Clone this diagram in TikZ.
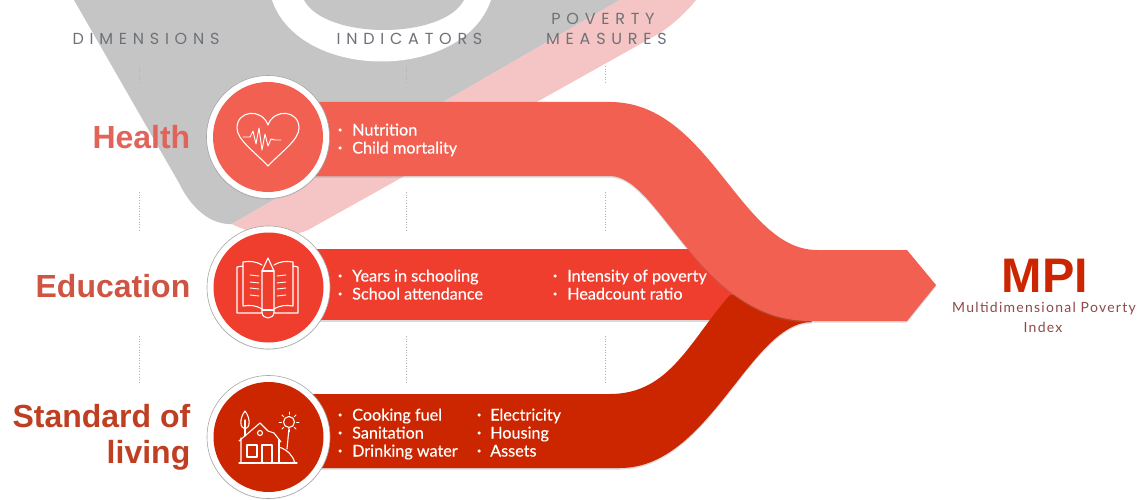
\documentclass[tikz,border=0pt]{standalone}
\usepackage{fontspec}
\setmainfont{Liberation Sans}
\newfontfamily\spacedfont[LetterSpace=36]{Poppins}
\newfontfamily\itemfont[FakeBold=0.3]{Lato}
\newfontfamily\subfont[LetterSpace=9]{Lato}
\usetikzlibrary{shadows}
\definecolor{hcol}{HTML}{F26052}
\definecolor{ecol}{HTML}{EF3E2E}
\definecolor{scol}{HTML}{CC2600}
\definecolor{pinkband}{HTML}{F5C4C4}
\definecolor{grayband}{HTML}{C5C5C5}
\definecolor{headcol}{HTML}{6E7278}
\definecolor{hlabel}{HTML}{E2635A}
\definecolor{elabel}{HTML}{CE5444}
\definecolor{slabel}{HTML}{BE3F22}
\definecolor{sublabel}{HTML}{8C4A48}
\tikzset{
  x=1pt,y=-1pt,
  header/.style={text=headcol,font=\spacedfont\fontsize{16}{18}\selectfont,inner sep=0pt},
  dimlabel/.style={anchor=east,inner sep=0pt,font=\fontsize{32}{38}\selectfont\bfseries},
  itemtext/.style={anchor=base west,inner sep=0pt,text=white,font=\itemfont\fontsize{16.2}{18}\selectfont},
  itemdot/.style={circle,fill=white,inner sep=0pt,minimum size=3.5pt},
  ringnode/.style={circle,draw=gray!70,line width=.6pt,fill=white,minimum size=123pt,inner sep=0pt,drop shadow={opacity=.15,shadow xshift=0pt,shadow yshift=-1pt}},
  discnode/.style={circle,minimum size=110pt,inner sep=0pt},
  icon/.style={draw=white,line width=1.1pt,line join=round,line cap=round},
  guide/.style={draw=gray!60,line width=.7pt,dotted},
  band/.style={drop shadow={opacity=.3,shadow xshift=0pt,shadow yshift=-1.5pt}},
  sublabeltext/.style={inner sep=0pt,text=sublabel,font=\subfont\fontsize{14}{16}\selectfont},
}
\newcommand{\bitem}[5]{\node[itemdot] (#1d) at (#2,#4) {}; \node[itemtext] (#1) at (#3,#4+5.5) {#5};}
\begin{document}
\begin{tikzpicture}
\useasboundingbox (0,0) rectangle (1137,500);
\clip (0,0) rectangle (1137,500);
% background motif
\fill[grayband] (74,0) -- (179,183) .. controls (192,210) and (212,225) .. (232,224) -- (620,0) -- cycle;
\fill[pinkband] (232,224) .. controls (250,234) and (285,240) .. (308,230) -- (660,33) .. controls (675,23) and (688,10) .. (696,0) -- (620,0) -- cycle;
\fill[white] (272,0) .. controls (300,82) and (463,82) .. (491,0) -- cycle;
\fill[grayband] (304,0) .. controls (325,40) and (443,40) .. (464,0) -- cycle;
% headers
\node[header] (hdim) at (146,39) {DIMENSIONS};
\node[header] (hind) at (409.5,39) {INDICATORS};
\node[header] (hpov) at (603,19) {POVERTY};
\node[header] (hmea) at (606.5,39) {MEASURES};
% guides
\foreach \gx in {139,406,605}{
  \draw[guide] (\gx,66) -- (\gx,84);
  \draw[guide] (\gx,192) -- (\gx,232);
  \draw[guide] (\gx,336) -- (\gx,382);
}
% bands
\fill[ecol,band] (300,249) -- (760,249) -- (760,320) -- (300,320) -- cycle;
\fill[scol,band] (300,394) -- (610,394) .. controls (670,394) and (690,340) .. (730,295) -- (790,290) -- (812,322)
  .. controls (750,322) and (710,468) .. (620,468) -- (300,468) -- cycle;
\fill[hcol,band] (300,102) -- (610,102) .. controls (710,102) and (740,250) .. (817,250) -- (907,250) -- (936,285) -- (907,321) -- (810,321)
  .. controls (700,321) and (660,176) .. (610,176) -- (300,176) -- cycle;
% circles
\node[ringnode] (rh) at (268,137) {};
\node[discnode,fill=hcol] (dh) at (268,137) {};
\node[ringnode] (re) at (268.5,287.5) {};
\node[discnode,fill=ecol] (de) at (268.5,287.5) {};
\node[ringnode] (rs) at (268.5,437) {};
\node[discnode,fill=scol] (ds) at (268.5,437) {};
% heart icon
\draw[icon] (268,166) .. controls (255,152) and (237,140) .. (237,128) .. controls (237,110) and (262,108) .. (268,125) .. controls (274,108) and (299,110) .. (299,128) .. controls (299,140) and (281,152) .. (268,166) -- cycle;
\draw[icon,line width=.9pt] (243,137) -- (250,137) -- (253,131) -- (256,144) -- (259,128) -- (262,150) -- (265,134) -- (268,146) -- (271,139) -- (275,140) -- (281,140);
% book icon
\draw[icon] (262,265) .. controls (255,261) and (250,261) .. (243,262) -- (243,306) .. controls (250,305) and (255,305) .. (262,309);
\draw[icon] (243,266) -- (237,267) -- (237,313) -- (262,313);
\draw[icon] (274,265) .. controls (281,261) and (286,261) .. (293,262) -- (293,306) .. controls (286,305) and (281,305) .. (274,309);
\draw[icon] (293,266) -- (298,267) -- (298,313) -- (274,313);
\draw[icon] (262,271) -- (268,258) -- (274,271) -- (274,312) .. controls (274,320) and (262,320) .. (262,312) -- cycle;
\draw[icon] (262,271) -- (274,271) (262,310) -- (274,310);
\foreach \ly in {275,282,288,295}{
  \draw[icon,line width=.9pt] (250,\ly) -- (259,\ly+1);
  \draw[icon,line width=.9pt] (286,\ly) -- (277,\ly+1);
}
% house icon
\draw[icon] (239,463) -- (297,463);
\draw[icon] (241,463) -- (241,438) (239,441) -- (260,423) -- (268,431) -- (274,433) -- (281,442);
\draw[icon] (279,440) -- (279,463);
\draw[icon] (247,445) rectangle (257,457);
\draw[icon] (262,463) -- (262,445) -- (272,445) -- (272,463);
\draw[icon] (260,433) circle (2.5);
\draw[icon] (279,447) .. controls (288,450) and (293,456) .. (295,463);
\draw[icon] (245,411) .. controls (239,419) and (240,428) .. (245,429) .. controls (250,428) and (251,419) .. (245,411) -- cycle;
\draw[icon] (245,420) -- (245,436);
\draw[icon] (289,422) circle (5.5);
\foreach \a in {0,45,...,315}{\draw[icon,line width=.9pt] (289,422) ++(\a:7.5) -- ++(\a:2.5);}
\draw[icon] (289,428) -- (287,449);
% labels
\node[dimlabel,text=hlabel] (lh) at (190.5,137) {Health};
\node[dimlabel,text=elabel] (le) at (190.5,286) {Education};
\node[dimlabel,text=slabel] (ls1) at (190.5,416) {Standard of};
\node[dimlabel,text=slabel] (ls2) at (190.5,455) {living};
% items
\bitem{a1}{340}{352}{130}{Nutrition}
\bitem{a2}{340}{352}{148}{Child mortality}
\bitem{b1}{340}{352}{276}{Years in schooling}
\bitem{b2}{340}{352}{294}{School attendance}
\bitem{b3}{555}{567}{276}{Intensity of poverty}
\bitem{b4}{555}{567}{294}{Headcount ratio}
\bitem{c1}{340}{352}{415}{Cooking fuel}
\bitem{c2}{340}{352}{433}{Sanitation}
\bitem{c3}{340}{352}{451}{Drinking water}
\bitem{c4}{479}{490}{415}{Electricity}
\bitem{c5}{479}{490}{433}{Housing}
\bitem{c6}{479}{490}{451}{Assets}
% MPI
\node[inner sep=0pt,text=scol,font=\fontsize{48.5}{50}\selectfont\bfseries] (mpi) at (1045,276) {MPI};
\node[sublabeltext] (sub1) at (1044,309) {Multidimensional Poverty};
\node[sublabeltext] (sub2) at (1043,327) {Index};
\end{tikzpicture}
\end{document}
